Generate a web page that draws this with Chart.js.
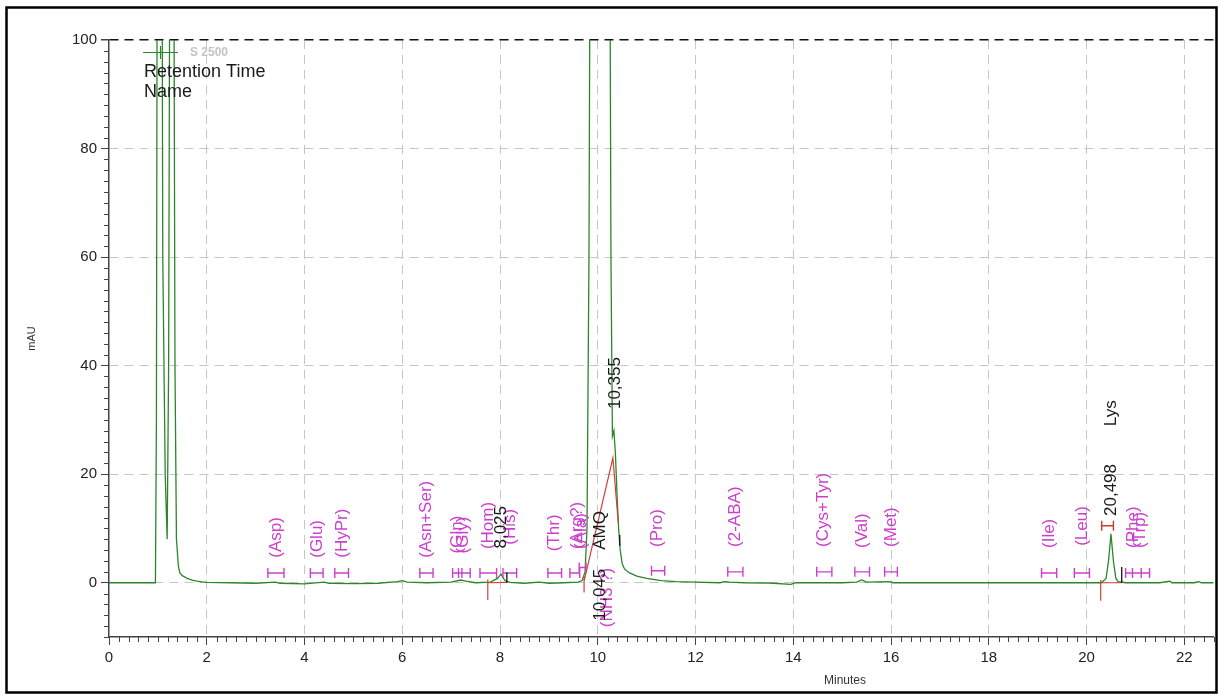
<!DOCTYPE html>
<html>
<head>
<meta charset="utf-8">
<title>S 2500 chromatogram</title>
<script src="https://cdn.jsdelivr.net/npm/chart.js@4/dist/chart.umd.min.js"></script>
<style>
  html, body { margin: 0; padding: 0; background: #fff; }
  #wrap { width: 1220px; height: 695px; position: relative; }
</style>
</head>
<body>
<div id="wrap"><canvas id="chart-chrom" width="1220" height="695"></canvas></div>
<script>
// chromatogram trace (minutes / mAU)
var traceTime = [0, 0.95, 0.97, 0.99, 1.08, 1.10, 1.15, 1.19, 1.22, 1.25, 1.32, 1.35, 1.38, 1.42, 1.45, 1.5, 1.6, 1.7, 1.8, 1.9, 2.0,
  2.5, 3.0, 3.4, 3.5, 4.0, 4.4, 4.5, 5.0, 5.5, 5.9, 6.0, 6.1, 6.5, 7.0, 7.2, 7.3, 7.5, 7.8, 7.95, 8.02, 8.1, 8.2, 8.5, 8.8, 9.0, 9.3,
  9.6, 9.68, 9.74, 9.78, 9.82, 9.85, 10.24, 10.27, 10.30, 10.33, 10.36, 10.40, 10.43, 10.46, 10.5, 10.55, 10.65, 10.8, 11.0, 11.3,
  11.6, 12.0, 12.5, 12.6, 12.7, 13.0, 13.5, 13.95, 14.05, 14.5, 15.0, 15.3, 15.4, 15.5, 15.95, 16.05, 17.0, 18.0, 19.0, 20.0,
  20.3, 20.4, 20.45, 20.5, 20.55, 20.6, 20.65, 20.8, 21.5, 21.7, 21.75, 22.2, 22.3, 22.35, 22.6];
var traceMau = [0, 0, 30, 140, 140, 60, 20, 8, 40, 140, 140, 40, 8, 3, 1.8, 1.3, 0.8, 0.5, 0.3, 0.15, 0.05,
  0, -0.1, 0.1, -0.1, -0.2, 0.1, -0.1, -0.15, -0.1, 0.2, 0.4, 0.1, 0, 0.1, 0.5, 0.3, 0, 0.1, 0.8, 1.6, 0.4, 0.05, -0.1, 0.1, -0.1, 0,
  0.1, 0.4, 2, 10, 60, 140, 140, 60, 27, 28, 24, 15, 9.5, 6, 3.5, 2.5, 1.8, 1.2, 0.8, 0.4,
  0.2, 0.1, 0, 0.2, 0.1, 0, -0.05, -0.3, 0, 0, 0, 0.1, 0.5, 0.1, 0.2, 0, 0, 0, 0, 0,
  0, 0.8, 4, 9, 4, 0.8, 0.2, 0, 0, 0.3, 0, 0, 0.2, 0, 0];

// expected retention windows (magenta I-beams)
var windowStart = [3.25, 4.12, 4.62, 6.36, 7.03, 7.15, 7.59, 8.06, 8.98, 9.43, 9.62, 11.10, 12.66, 14.48, 15.26, 15.87, 19.08, 19.75, 20.80, 20.94];
var windowEnd   = [3.58, 4.38, 4.90, 6.63, 7.22, 7.39, 7.93, 8.34, 9.26, 9.63, 9.76, 11.37, 12.97, 14.79, 15.56, 16.13, 19.39, 20.06, 21.12, 21.29];
var windowLevel = [1.8, 1.8, 1.8, 1.8, 1.8, 1.8, 1.8, 1.8, 1.8, 1.8, 2.8, 2.2, 2.0, 2.0, 2.0, 2.0, 1.8, 1.8, 1.8, 1.8];

// found window (red I-beam) for Lys
var foundStart = [20.31];
var foundEnd = [20.55];
var foundLevel = [10.5];

// component names (magenta, rotated)
var nameText = ['(Asp)', '(Glu)', '(HyPr)', '(Asn+Ser)', '(Gln)', '(Gly)', '(Hom)', '(His)', '(Thr)', '(Arg?)', '(Ala)', '(NH3 ?)',
  '(Pro)', '(2-ABA)', '(Cys+Tyr)', '(Val)', '(Met)', '(Ile)', '(Leu)', '(Phe)', '(Trp)'];
var nameTime = [3.42, 4.26, 4.77, 6.49, 7.13, 7.24, 7.76, 8.22, 9.11, 9.58, 9.66, 10.2,
  11.22, 12.82, 14.62, 15.41, 16.01, 19.24, 19.91, 20.96, 21.1];
var nameBase = [4.6, 4.6, 4.6, 4.6, 5.4, 5.4, 6.2, 7.0, 5.8, 6.2, 6.2, -8.2,
  6.6, 6.6, 6.6, 6.4, 6.6, 6.4, 6.8, 6.4, 6.4];

// integrated peaks (black, rotated)
var peakText = ['8,025', '10,045    AMQ', '10,355', '20,498        Lys'];
var peakTime = [8.025, 10.045, 10.355, 20.498];
var peakBase = [6.3, -7.0, 32.0, 12.3];

// integration baselines / drop lines (red) and peak end marks (black)
var redLineX = [7.75, 7.75, null, 7.75, 8.14, null, 9.72, 9.72, null, 9.72, 10.31, 10.42, null, 20.29, 20.29, null, 20.29, 20.72];
var redLineY = [0.6, -3.2, null, 0, 0.05, null, 1.2, -1.8, null, 0.3, 23, 11, null, 0.5, -3.3, null, 0, 0];
var blackMarkX = [8.14, 8.14, null, 10.45, 10.45, null, 20.72, 20.72];
var blackMarkY = [0, 1.9, null, 6.8, 8.8, null, 0, 2.9];

var FONT = '"Liberation Sans", Arial, Helvetica, sans-serif';
var GREEN = '#2b862b';
var MAGENTA = '#cc3fcc';


function toPoints(xs, ys) {
    var out = [];
    for (var i = 0; i < xs.length; i++) {
        if (xs[i] === null) {
            out.push({x: xs[i - 1], y: null});
        } else {
            out.push({x: xs[i], y: ys[i]});
        }
    }
    return out;
}

function beamPoints(starts, ends, levels) {
    var out = [];
    for (var i = 0; i < starts.length; i++) {
        out.push({x: starts[i], y: levels[i]});
        out.push({x: ends[i], y: levels[i]});
        out.push({x: ends[i], y: null});
    }
    return out;
}

function isMajor(v, step) {
    return Math.abs(v / step - Math.round(v / step)) < 1e-6;
}


// rotated peak / component labels, minor ticks, legend and frame
var decorPlugin = {
    id: 'decor',
    afterDatasetsDraw: function(chart) {
        var ctx = chart.ctx;
        var xs = chart.scales.x, ys = chart.scales.y;
        var i;

        function vertText(text, t, base, color) {
            ctx.save();
            ctx.translate(xs.getPixelForValue(t), ys.getPixelForValue(base));
            ctx.rotate(-Math.PI / 2);
            ctx.fillStyle = color;
            ctx.font = '17px ' + FONT;
            ctx.textAlign = 'left';
            ctx.textBaseline = 'middle';
            ctx.fillText(text, 0, 0);
            ctx.restore();
        }

        for (i = 0; i < nameText.length; i++) {
            vertText(nameText[i], nameTime[i], nameBase[i], MAGENTA);
        }
        for (i = 0; i < peakText.length; i++) {
            vertText(peakText[i], peakTime[i], peakBase[i], '#1a1a1a');
        }
    },
    afterDraw: function(chart) {
        var ctx = chart.ctx;
        var xs = chart.scales.x, ys = chart.scales.y;
        var area = chart.chartArea;
        var v, p;

        // minor ticks
        ctx.save();
        ctx.strokeStyle = '#444';
        ctx.lineWidth = 1;
        ctx.beginPath();
        for (v = 0; v <= xs.max + 1e-9; v += 0.2) {
            if (isMajor(v, 2)) continue;
            p = Math.round(xs.getPixelForValue(v)) + 0.5;
            ctx.moveTo(p, area.bottom);
            ctx.lineTo(p, area.bottom + 5);
        }
        for (v = ys.min; v <= ys.max + 1e-9; v += 2) {
            if (isMajor(v, 20)) continue;
            p = Math.round(ys.getPixelForValue(v)) + 0.5;
            ctx.moveTo(area.left - 5, p);
            ctx.lineTo(area.left, p);
        }
        ctx.stroke();

        // legend
        ctx.strokeStyle = GREEN;
        ctx.lineWidth = 1.2;
        ctx.beginPath();
        ctx.moveTo(143, 52.5);
        ctx.lineTo(178, 52.5);
        ctx.moveTo(160.5, 46);
        ctx.lineTo(160.5, 59);
        ctx.stroke();
        ctx.fillStyle = '#c4c4c4';
        ctx.font = 'bold 12px ' + FONT;
        ctx.textBaseline = 'middle';
        ctx.textAlign = 'left';
        ctx.fillText('S 2500', 190, 53);
        ctx.fillStyle = '#1a1a1a';
        ctx.font = '18px ' + FONT;
        ctx.fillText('Retention Time', 144, 72);
        ctx.fillText('Name', 144, 92);

        // x axis title (sits right of centre in the original)
        ctx.fillStyle = '#333';
        ctx.font = '12px ' + FONT;
        ctx.textAlign = 'center';
        ctx.fillText('Minutes', 845, 681);

        // outer frame
        ctx.strokeStyle = '#000';
        ctx.lineWidth = 2.5;
        ctx.strokeRect(6.5, 7.5, 1210, 685);
        ctx.restore();
    }
};


var ctx = document.getElementById('chart-chrom').getContext('2d');
var chrom = new Chart(ctx, {
    type: 'line',
    plugins: [decorPlugin],
    data: {
        datasets: [
            {
                label: 'Peak end',
                data: toPoints(blackMarkX, blackMarkY),
                borderColor: '#111',
                borderWidth: 1.3,
                pointRadius: 0,
                spanGaps: false,
            },
            {
                label: 'Baseline',
                data: toPoints(redLineX, redLineY),
                borderColor: '#d0403a',
                borderWidth: 1.2,
                pointRadius: 0,
                spanGaps: false,
            },
            {
                label: 'Found window',
                data: beamPoints(foundStart, foundEnd, foundLevel),
                borderColor: '#cc3a2a',
                borderWidth: 1.4,
                pointStyle: 'line',
                rotation: 90,
                pointRadius: 5,
                pointBorderColor: '#cc3a2a',
                pointBorderWidth: 1.4,
                spanGaps: false,
            },
            {
                label: 'Windows',
                data: beamPoints(windowStart, windowEnd, windowLevel),
                borderColor: MAGENTA,
                borderWidth: 1.4,
                pointStyle: 'line',
                rotation: 90,
                pointRadius: 5,
                pointBorderColor: MAGENTA,
                pointBorderWidth: 1.4,
                spanGaps: false,
            },
            {
                label: 'S 2500',
                data: toPoints(traceTime, traceMau),
                borderColor: GREEN,
                borderWidth: 1.3,
                pointRadius: 0,
                fill: false,
            },
        ],
    },
    options: {
        responsive: false,
        animation: false,
        events: [],
        elements: {
            line: { tension: 0 },
        },
        layout: {
            padding: { top: 40, right: 5, left: 0, bottom: 0 },
        },
        plugins: {
            legend: { display: false },
            tooltip: { enabled: false },
        },
        scales: {
            x: {
                type: 'linear',
                min: 0,
                max: 22.6,
                afterFit: function(scale) { scale.height = 58; },
                ticks: {
                    stepSize: 2,
                    includeBounds: false,
                    autoSkip: false,
                    maxRotation: 0,
                    padding: 4,
                    color: '#222',
                    font: { size: 15, family: FONT },
                    callback: function(v) { return isMajor(v, 2) ? String(v) : ''; },
                },
                grid: {
                    color: function(c) {
                        var v = c.tick ? c.tick.value : 0;
                        return (v > 0 && isMajor(v, 2)) ? '#c6c6c6' : 'rgba(0,0,0,0)';
                    },
                    tickColor: function(c) {
                        var v = c.tick ? c.tick.value : 0;
                        return isMajor(v, 2) ? '#444' : 'rgba(0,0,0,0)';
                    },
                    tickLength: 8,
                    lineWidth: 1,
                },
                border: { display: true, color: '#444', width: 1.5, dash: [9, 6] },
            },
            y: {
                type: 'linear',
                min: -10,
                max: 100,
                afterFit: function(scale) { scale.width = 109; },
                title: {
                    display: true,
                    text: 'mAU',
                    color: '#333',
                    font: { size: 11, family: FONT },
                    padding: { top: 25, bottom: 0 },
                },
                ticks: {
                    stepSize: 20,
                    padding: 4,
                    color: '#222',
                    font: { size: 15, family: FONT },
                    callback: function(v) { return (v >= 0 && isMajor(v, 20)) ? String(v) : ''; },
                },
                grid: {
                    color: function(c) {
                        var v = c.tick ? c.tick.value : 0;
                        if (v === 100) return '#111';
                        return (v >= 0 && isMajor(v, 20)) ? '#c6c6c6' : 'rgba(0,0,0,0)';
                    },
                    tickColor: function(c) {
                        var v = c.tick ? c.tick.value : 0;
                        return isMajor(v, 20) ? '#444' : 'rgba(0,0,0,0)';
                    },
                    tickLength: 8,
                    lineWidth: function(c) { return (c.tick && c.tick.value === 100) ? 1.5 : 1; },
                },
                border: { display: true, color: '#444', width: 1.5, dash: [9, 6] },
            },
        },
    },
});
</script>
</body>
</html>
